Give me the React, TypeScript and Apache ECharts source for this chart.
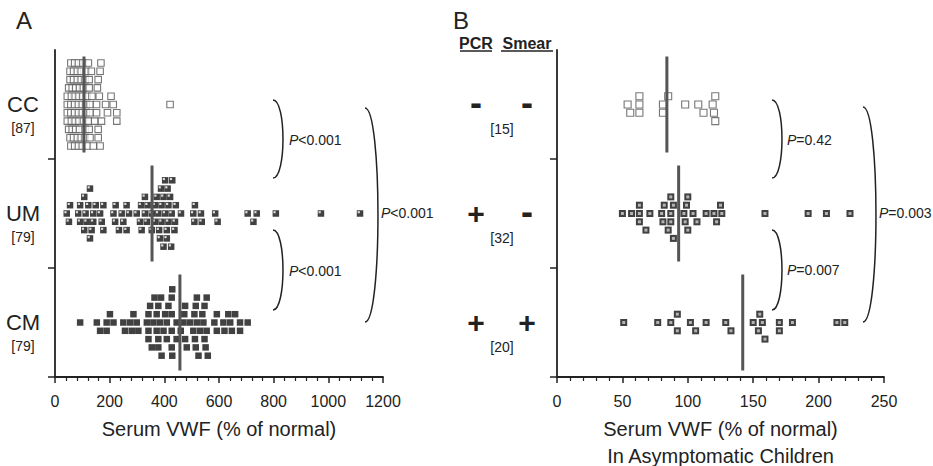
import React, { useEffect, useRef } from 'react';
import * as echarts from 'echarts';

// ---------------- data ----------------
const groups = ['CC', 'UM', 'CM'];
const countsA = ['[87]', '[79]', '[79]'];
const countsB = ['[15]', '[32]', '[20]'];
const pcrSigns = ['-', '+', '+'];
const smearSigns = ['-', '-', '+'];

const xTicksA = [0, 200, 400, 600, 800, 1000, 1200];
const xTicksB = [0, 50, 100, 150, 200, 250];

// Panel A: serum VWF (% of normal), every child
const ccA = [
  55, 68, 82, 96, 110, 125, 155, 192, 55, 68, 82, 96, 110, 125, 145, 165,
  55, 68, 82, 96, 110, 125, 168, 50, 63, 76, 90, 104, 118, 133, 165,
  45, 58, 72, 86, 100, 114, 128, 158, 226, 45, 58, 72, 86, 100, 114, 158, 205, 421,
  45, 58, 72, 86, 100, 128, 162, 213, 45, 58, 72, 86, 114, 128, 158, 226,
  50, 63, 76, 90, 104, 118, 135, 152, 170, 60, 74, 88, 102, 122, 152, 185,
  60, 74, 88, 102, 122, 140,
];
const umA = [
  425, 354, 390, 415, 116, 149, 250, 336, 384, 409, 461,
  107, 140, 234, 329, 381, 403, 437, 537,
  55, 92, 128, 177, 220, 271, 317, 366, 388, 412, 512, 726,
  43, 85, 128, 165, 214, 262, 311, 354, 397, 427, 506, 586, 705, 808, 973, 1116,
  51, 92, 134, 171, 222, 262, 315, 366, 397, 429, 510, 595, 738,
  107, 140, 177, 244, 299, 329, 372, 403, 439, 534,
  112, 339, 378, 409, 442, 122, 390, 415, 421,
];
const cmA = [
  378, 539, 364, 409, 445, 525, 354, 403, 429, 519, 559,
  287, 348, 388, 427, 482, 515, 551, 620, 677,
  189, 201, 256, 342, 378, 427, 476, 510, 547, 592, 641,
  92, 153, 214, 250, 299, 342, 384, 427, 470, 506, 543, 592, 634, 677,
  165, 275, 305, 342, 390, 427, 473, 515, 547, 616, 647, 705,
  189, 281, 336, 372, 397, 429, 476, 519, 555, 659,
  360, 409, 445, 494, 512, 555, 372, 415, 531, 583, 378, 460,
];
const mediansA = [106, 355, 457];

// Panel B: asymptomatic children
const ccB = [54, 56, 63, 63, 63, 81, 81, 85, 98, 108, 112, 119, 120, 121, 121];
const umB = [
  87, 104, 68, 87, 100, 126, 63, 82, 98, 122,
  50, 63, 71, 80, 89, 97, 107, 120, 159, 192, 206, 224,
  57, 63, 81, 89, 99, 114, 125, 85, 100, 87,
];
const cmB = [92, 133, 155, 170, 51, 77, 87, 102, 114, 129, 150, 159, 170, 180, 214, 92, 106, 154, 220, 157];
const mediansB = [84, 93, 142];

const pLabelsA = ['P<0.001', 'P<0.001', 'P<0.001'];
const pLabelsB = ['P=0.42', 'P=0.007', 'P=0.003'];

// ---------------- layout ----------------
const FONT = '"Liberation Sans", Arial, Helvetica, sans-serif';
const INK = '#222';
const TOP = 50;
const H = 327;
const gridA = { left: 55, top: TOP, width: 328, height: H, outerBoundsMode: 'none', containLabel: false };
const gridB = { left: 557, top: TOP, width: 327, height: H, outerBoundsMode: 'none', containLabel: false };
const BAND_CENTERS = [2.5, 1.5, 0.5];
const ROW_STEP = (8.3 / H) * 3;
const HALF_MEDIAN = 0.44;
const SYM_A = 6.5;
const SYM_B = 7;

const yPix = (c: number) => TOP + ((3 - c) / 3) * H;

// discrete-row beeswarm: each value keeps its x, stacked in rows 0, -1, +1, -2, +2 ...
function swarm(values: number[], center: number, sep: number, maxLevel = 5): number[][] {
  const sorted = [...values].sort((a, b) => a - b);
  const order: number[] = [0];
  for (let k = 1; k <= maxLevel; k++) order.push(-k, k);
  const last = new Map<number, number>();
  const out: number[][] = [];
  for (const v of sorted) {
    let chosen: number | null = null;
    for (const r of order) {
      const l = last.get(r);
      if (l === undefined || v - l >= sep) {
        chosen = r;
        break;
      }
    }
    if (chosen === null) {
      let best = -Infinity;
      for (const r of order) {
        const d = v - (last.get(r) as number);
        if (d > best + 1e-9) {
          best = d;
          chosen = r;
        }
      }
    }
    last.set(chosen as number, v);
    out.push([v, center + (chosen as number) * ROW_STEP]);
  }
  return out;
}

const sepA = (SYM_A * (xTicksA[xTicksA.length - 1] - xTicksA[0])) / gridA.width;
const sepB = (SYM_B * (xTicksB[xTicksB.length - 1] - xTicksB[0])) / gridB.width;

function xAxisFor(ticks: number[], gridIndex: number, name: string, nameGap: number) {
  return {
    type: 'value',
    gridIndex,
    min: ticks[0],
    max: ticks[ticks.length - 1],
    interval: ticks[1] - ticks[0],
    axisLine: { show: true, lineStyle: { color: INK, width: 1.8 } },
    axisTick: { show: true, length: 6, lineStyle: { color: INK, width: 1.5 } },
    minorTick: { show: true, splitNumber: 5, length: 4, lineStyle: { color: INK, width: 1.2 } },
    splitLine: { show: false },
    minorSplitLine: { show: false },
    axisLabel: {
      fontSize: 16,
      color: INK,
      fontFamily: FONT,
      margin: 16,
      formatter: (v: number) => String(v),
    },
    name,
    nameLocation: 'middle',
    nameGap,
    nameTextStyle: { fontSize: 20, color: INK, fontFamily: FONT, lineHeight: 27 },
  };
}

function yAxisFor(gridIndex: number) {
  return {
    type: 'value',
    gridIndex,
    min: 0,
    max: 3,
    interval: 1,
    axisLine: { show: true, lineStyle: { color: INK, width: 1.8 } },
    axisTick: { show: true, length: 7, inside: false, customValues: [0, 1, 2], lineStyle: { color: INK, width: 1.5 } },
    axisLabel: { show: false },
    splitLine: { show: false },
  };
}

function scatter(data: number[][], axis: number, style: any) {
  return {
    type: 'scatter',
    xAxisIndex: axis,
    yAxisIndex: axis,
    data,
    symbol: 'rect',
    silent: true,
    z: 2,
    ...style,
  };
}

function medianSeries(m: number, center: number, axis: number) {
  return {
    type: 'line',
    xAxisIndex: axis,
    yAxisIndex: axis,
    data: [
      [m, center - HALF_MEDIAN],
      [m, center + HALF_MEDIAN],
    ],
    symbol: 'none',
    silent: true,
    z: 5,
    lineStyle: { color: '#555', width: 3 },
  };
}

function bracket(x0: number, yt: number, yb: number, w: number) {
  return {
    type: 'bezierCurve',
    shape: { x1: x0, y1: yt, x2: x0, y2: yb, cpx1: x0 + 1.33 * w, cpy1: yt, cpx2: x0 + 1.33 * w, cpy2: yb },
    style: { stroke: INK, lineWidth: 1.5, fill: null },
  };
}

function pText(label: string, x: number, y: number) {
  const rest = label.slice(1);
  return {
    type: 'text',
    x,
    y,
    style: {
      text: '{i|P}' + rest,
      fontSize: 14,
      fontFamily: FONT,
      fill: INK,
      align: 'left',
      verticalAlign: 'middle',
      rich: { i: { fontStyle: 'italic', fontSize: 14, fontFamily: FONT, fill: INK } },
    },
  };
}

function txt(text: string, x: number, y: number, fontSize: number, extra: any = {}) {
  return {
    type: 'text',
    x,
    y,
    style: { text, fontSize, fontFamily: FONT, fill: INK, align: 'center', verticalAlign: 'middle', ...extra },
  };
}

function buildOption() {
  const openStyleA = { symbolSize: SYM_A, itemStyle: { color: '#fff', borderColor: '#555', borderWidth: 1.1 } };
  const openStyleB = { symbolSize: SYM_B, itemStyle: { color: '#fff', borderColor: '#555', borderWidth: 1.1 } };
  const blackA = { symbolSize: SYM_A, itemStyle: { color: '#111' } };
  const hiA = { symbolSize: 2.2, symbolOffset: [-1.3, -1.3], itemStyle: { color: '#fff' }, z: 3 };
  const blackB = { symbolSize: SYM_B, itemStyle: { color: '#111' } };
  const hiB = { symbolSize: 3, itemStyle: { color: '#cfcfcf' }, z: 3 };

  const ccAData = swarm(ccA, BAND_CENTERS[0], sepA);
  const umAData = swarm(umA, BAND_CENTERS[1], sepA);
  const cmAData = swarm(cmA, BAND_CENTERS[2], sepA);
  const ccBData = swarm(ccB, BAND_CENTERS[0], sepB);
  const umBData = swarm(umB, BAND_CENTERS[1], sepB);
  const cmBData = swarm(cmB, BAND_CENTERS[2], sepB);

  const series: any[] = [
    scatter(ccAData, 0, openStyleA),
    scatter(umAData, 0, blackA),
    scatter(umAData, 0, hiA),
    scatter(cmAData, 0, blackA),
    scatter(ccBData, 1, openStyleB),
    scatter(umBData, 1, blackB),
    scatter(umBData, 1, hiB),
    scatter(cmBData, 1, blackB),
    scatter(cmBData, 1, hiB),
  ];
  mediansA.forEach((m, i) => series.push(medianSeries(m, BAND_CENTERS[i], 0)));
  mediansB.forEach((m, i) => series.push(medianSeries(m, BAND_CENTERS[i], 1)));

  const graphics: any[] = [];
  graphics.push(txt('A', 24, 20, 24));
  graphics.push(txt('B', 461, 20, 24));
  // panel A category labels
  groups.forEach((g, i) => {
    const yc = yPix(BAND_CENTERS[i]);
    graphics.push(txt(g, 23, yc, 22));
    graphics.push(txt(countsA[i], 23, yc + 23, 14));
  });
  // panel B headers
  graphics.push(txt('PCR', 476, 43, 16, { fontWeight: 'bold' }));
  graphics.push(txt('Smear', 527, 43, 16, { fontWeight: 'bold' }));
  graphics.push({ type: 'line', shape: { x1: 460, y1: 51, x2: 492, y2: 51 }, style: { stroke: INK, lineWidth: 1.5 } });
  graphics.push({ type: 'line', shape: { x1: 501, y1: 51, x2: 553, y2: 51 }, style: { stroke: INK, lineWidth: 1.5 } });
  groups.forEach((g, i) => {
    const yc = yPix(BAND_CENTERS[i]);
    const sz = (s: string) => (s === '+' ? 30 : 36);
    const dy = (s: string) => (s === '+' ? 0 : -2);
    graphics.push(txt(pcrSigns[i], 476, yc + dy(pcrSigns[i]), sz(pcrSigns[i]), { fontWeight: 'bold' }));
    graphics.push(txt(smearSigns[i], 527, yc + dy(smearSigns[i]), sz(smearSigns[i]), { fontWeight: 'bold' }));
    graphics.push(txt(countsB[i], 502, yc + 24, 14));
  });
  // brackets panel A
  graphics.push(bracket(273, 100, 178, 10));
  graphics.push(bracket(273, 230, 310, 10));
  graphics.push(bracket(365, 108, 322, 13));
  graphics.push(pText(pLabelsA[0], 289, 140));
  graphics.push(pText(pLabelsA[1], 289, 271));
  graphics.push(pText(pLabelsA[2], 381, 213));
  // brackets panel B
  graphics.push(bracket(772, 100, 178, 10));
  graphics.push(bracket(772, 230, 310, 10));
  graphics.push(bracket(863, 107, 322, 13));
  graphics.push(pText(pLabelsB[0], 787, 140));
  graphics.push(pText(pLabelsB[1], 787, 270));
  graphics.push(pText(pLabelsB[2], 879, 213));

  return {
    animation: false,
    backgroundColor: '#fff',
    grid: [gridA, gridB],
    xAxis: [
      xAxisFor(xTicksA, 0, 'Serum VWF (% of normal)', 38),
      xAxisFor(xTicksB, 1, 'Serum VWF (% of normal)\nIn Asymptomatic Children', 38),
    ],
    yAxis: [yAxisFor(0), yAxisFor(1)],
    series,
    graphic: graphics,
  };
}

export default function App() {
  const ref = useRef<HTMLDivElement>(null);
  useEffect(() => {
    if (!ref.current) return;
    const chart = echarts.init(ref.current, null, { renderer: 'svg' });
    chart.setOption(buildOption() as any);
    return () => chart.dispose();
  }, []);
  return (
    <div
      ref={ref}
      style={{ position: 'fixed', left: 0, top: 0, width: 933, height: 466, background: '#fff' }}
    />
  );
}
